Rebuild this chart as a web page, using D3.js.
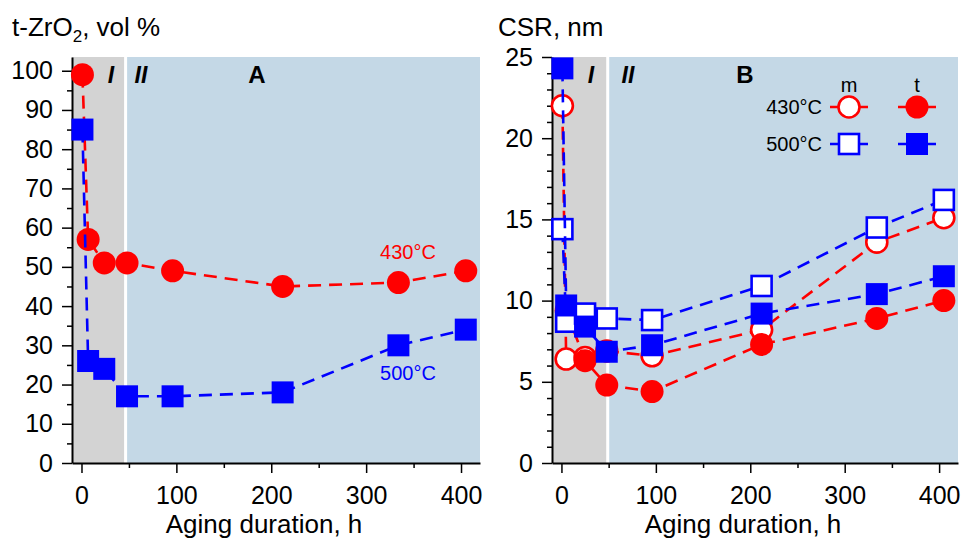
<!DOCTYPE html>
<html>
<head>
<meta charset="utf-8">
<script src="https://cdn.jsdelivr.net/npm/d3@7"></script>
<style>
  body { margin: 0; background: #fff; }
  svg { display: block; }
  text { font-family: "Liberation Sans", Arial, sans-serif; }
</style>
</head>
<body>
<svg id="chart" width="963" height="540"></svg>
<script>
// Aging durations, h
const hoursA = [1, 7, 24, 48, 96, 212, 334, 405];
const hoursB = [1, 5, 25, 48, 96, 212, 334, 405];

// Panel A: tetragonal ZrO2 content, vol %
const tZrO2_430 = [99, 57, 51, 51, 49, 45, 46, 49];
const tZrO2_500 = [85, 26, 24, 17, 17, 18, 30, 34];

// Panel B: coherent scattering region size, nm (m = monoclinic, t = tetragonal)
const csrM_430 = [22, 6.4, 6.5, 6.9, 6.6, 8.2, 13.6, 15.1];
const csrT_430 = [null, 9.4, 6.3, 4.8, 4.4, 7.3, 8.9, 10.0];
const csrM_500 = [14.4, 8.7, 9.2, 8.9, 8.8, 10.9, 14.5, 16.2];
const csrT_500 = [24.3, 9.7, 8.4, 6.85, 7.25, 9.2, 10.4, 11.5];

// Boundary between aging stages I and II, h
const stageBoundaryA = 46.5;
const stageBoundaryB = 49;

// Axis ticks
const xTicks = [0, 100, 200, 300, 400];
const xMinorTicks = [50, 150, 250, 350];
const yTicksA = [0, 10, 20, 30, 40, 50, 60, 70, 80, 90, 100];
const yMinorTicksA = [5, 15, 25, 35, 45, 55, 65, 75, 85, 95];
const yTicksB = [0, 5, 10, 15, 20, 25];
const yMinorTicksB = [1, 2, 3, 4, 6, 7, 8, 9, 11, 12, 13, 14, 16, 17, 18, 19, 21, 22, 23, 24];

const RED = "#ff0000", BLUE = "#0000ff";
const GRAY_FILL = "#d3d3d3", BLUE_FILL = "#c4d8e6";
const TOP = 57, BOTTOM = 463;
const R_FILLED = 11.5, R_OPEN = 10.5, SQ_FILLED = 22, SQ_OPEN = 20, STROKE = 2.6;

const svg = d3.select("#chart");

function makePanel(opts) {
  const g = svg.append("g");
  const x = d3.scaleLinear().domain([-10, 420]).range([opts.left, opts.right]);
  const y = d3.scaleLinear().domain([0, opts.yMax]).range([BOTTOM, TOP]);

  // Stage shading
  g.append("rect")
    .attr("x", x(-10)).attr("y", TOP)
    .attr("width", x(opts.boundary) - x(-10)).attr("height", BOTTOM - TOP)
    .attr("fill", GRAY_FILL);
  g.append("rect")
    .attr("x", x(opts.boundary)).attr("y", TOP)
    .attr("width", x(420) - x(opts.boundary)).attr("height", BOTTOM - TOP)
    .attr("fill", BLUE_FILL);
  g.append("line")
    .attr("x1", x(opts.boundary)).attr("x2", x(opts.boundary))
    .attr("y1", TOP).attr("y2", BOTTOM)
    .attr("stroke", "#fff").attr("stroke-width", 3);

  // Axes
  const styleAxis = sel => {
    sel.selectAll("path.domain").attr("stroke", "#000").attr("stroke-width", 2);
    sel.selectAll(".tick line").attr("stroke", "#000").attr("stroke-width", 1.5);
    sel.selectAll(".tick text").attr("font-size", 25).attr("fill", "#000")
      .attr("font-family", "\"Liberation Sans\", Arial, sans-serif");
  };
  g.append("g").attr("transform", `translate(0,${BOTTOM})`)
    .call(d3.axisBottom(x).tickValues(xMinorTicks).tickSize(5).tickSizeOuter(0).tickFormat(""))
    .call(s => s.select("path.domain").remove())
    .call(styleAxis);
  g.append("g").attr("transform", `translate(${x(-10)},0)`)
    .call(d3.axisLeft(y).tickValues(opts.yMinor).tickSize(5).tickSizeOuter(0).tickFormat(""))
    .call(s => s.select("path.domain").remove())
    .call(styleAxis);
  g.append("g").attr("transform", `translate(0,${BOTTOM})`)
    .call(d3.axisBottom(x).tickValues(xTicks).tickSize(10).tickSizeOuter(0).tickPadding(13))
    .call(styleAxis);
  g.append("g").attr("transform", `translate(${x(-10)},0)`)
    .call(d3.axisLeft(y).tickValues(opts.yTicks).tickSize(10).tickSizeOuter(0).tickPadding(9))
    .call(styleAxis);

  // Axis title
  g.append("text")
    .attr("x", (opts.left + opts.right) / 2 - 12).attr("y", 533)
    .attr("text-anchor", "middle").attr("font-size", 26)
    .text("Aging duration, h");

  return { g, x, y };
}

const line = (x, y, hours) => d3.line()
  .defined(d => d != null)
  .x((d, i) => x(hours[i]))
  .y(d => y(d));

function marker(sel, shape, filled, color) {
  if (shape === "circle") {
    sel.append("circle")
      .attr("r", filled ? R_FILLED : R_OPEN)
      .attr("fill", filled ? color : "#fff")
      .attr("stroke", color).attr("stroke-width", filled ? 0 : STROKE);
  } else {
    const s = filled ? SQ_FILLED : SQ_OPEN;
    sel.append("rect")
      .attr("x", -s / 2).attr("y", -s / 2).attr("width", s).attr("height", s)
      .attr("fill", filled ? color : "#fff")
      .attr("stroke", color).attr("stroke-width", filled ? 0 : STROKE);
  }
}

function drawSeries(p, hours, values, color, shape, filled) {
  const g = p.g.append("g");
  g.append("path")
    .datum(values)
    .attr("d", line(p.x, p.y, hours))
    .attr("fill", "none").attr("stroke", color)
    .attr("stroke-width", STROKE).attr("stroke-dasharray", "13,8");
  const pts = values.map((v, i) => ({ h: hours[i], v })).filter(d => d.v != null);
  g.selectAll("g.pt").data(pts).join("g")
    .attr("class", "pt")
    .attr("transform", d => `translate(${p.x(d.h)},${p.y(d.v)})`)
    .each(function () { marker(d3.select(this), shape, filled, color); });
}

function stageLabels(p, xs, letter, letterX) {
  ["I", "II"].forEach((t, i) => p.g.append("text")
    .attr("x", xs[i]).attr("y", 83).attr("font-size", 23)
    .attr("font-weight", "bold").attr("font-style", "italic")
    .attr("text-anchor", "middle").text(t));
  p.g.append("text").attr("x", letterX).attr("y", 83).attr("font-size", 24)
    .attr("font-weight", "bold").attr("text-anchor", "middle").text(letter);
}

// ---- Panel A ----
const pA = makePanel({ left: 72, right: 480, yMax: 103.5, boundary: stageBoundaryA,
  yTicks: yTicksA, yMinor: yMinorTicksA });
drawSeries(pA, hoursA, tZrO2_430, RED, "circle", true);
drawSeries(pA, hoursA, tZrO2_500, BLUE, "square", true);

svg.append("text").attr("x", 12).attr("y", 36).attr("font-size", 26)
  .call(t => {
    t.append("tspan").text("t-ZrO");
    t.append("tspan").attr("font-size", 17).attr("dy", 6).text("2");
    t.append("tspan").attr("dy", -6).text(", vol %");
  });
stageLabels(pA, [111, 141], "A", 257);
pA.g.append("text").attr("x", 408).attr("y", 259).attr("font-size", 20)
  .attr("fill", RED).attr("text-anchor", "middle").text("430°C");
pA.g.append("text").attr("x", 408).attr("y", 380).attr("font-size", 20)
  .attr("fill", BLUE).attr("text-anchor", "middle").text("500°C");

// ---- Panel B ----
const pB = makePanel({ left: 552, right: 958, yMax: 25, boundary: stageBoundaryB,
  yTicks: yTicksB, yMinor: yMinorTicksB });
drawSeries(pB, hoursB, csrM_430, RED, "circle", false);
drawSeries(pB, hoursB, csrT_430, RED, "circle", true);
drawSeries(pB, hoursB, csrM_500, BLUE, "square", false);
drawSeries(pB, hoursB, csrT_500, BLUE, "square", true);

svg.append("text").attr("x", 498).attr("y", 36).attr("font-size", 26).text("CSR, nm");
stageLabels(pB, [591, 628], "B", 745);

// Legend: rows by temperature, columns by phase
const legendRows = ["430°C", "500°C"];
const legendCols = ["m", "t"];
const legend = pB.g.append("g");
const colX = [849, 917], rowY = [107, 144];
legendCols.forEach((c, j) => legend.append("text")
  .attr("x", colX[j]).attr("y", 92).attr("font-size", 20).attr("text-anchor", "middle").text(c));
legendRows.forEach((r, i) => {
  const color = i === 0 ? RED : BLUE;
  legend.append("text").attr("x", 822).attr("y", rowY[i] + 7).attr("font-size", 20)
    .attr("text-anchor", "end").text(r);
  legendCols.forEach((c, j) => {
    legend.append("line")
      .attr("x1", colX[j] - 19).attr("x2", colX[j] + 19)
      .attr("y1", rowY[i]).attr("y2", rowY[i])
      .attr("stroke", color).attr("stroke-width", STROKE);
    const m = legend.append("g").attr("transform", `translate(${colX[j]},${rowY[i]})`);
    marker(m, i === 0 ? "circle" : "square", j === 1, color);
  });
});
</script>
</body>
</html>
